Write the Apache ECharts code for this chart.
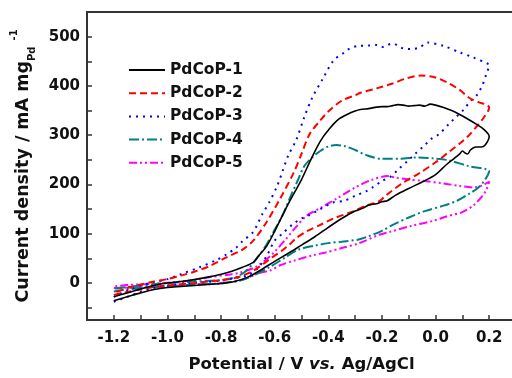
<!DOCTYPE html>
<html><head><meta charset="utf-8">
<script src="https://cdn.jsdelivr.net/npm/echarts@6/dist/echarts.min.js"></script>
<style>html,body{margin:0;padding:0;background:#fff;overflow:hidden}#c{width:522px;height:378px}</style>
</head><body><div id="c"></div>
<script>
// ---- data ----
const seriesNames = ['PdCoP-1','PdCoP-2','PdCoP-3','PdCoP-4','PdCoP-5'];
const xTickValues = [-1.2,-1.1,-1.0,-0.9,-0.8,-0.7,-0.6,-0.5,-0.4,-0.3,-0.2,-0.1,0.0,0.1,0.2];
const xLabelValues = [-1.2,-1.0,-0.8,-0.6,-0.4,-0.2,0.0,0.2];
const yTickValues = [-50,0,50,100,150,200,250,300,350,400,450,500];
const yLabelValues = [0,100,200,300,400,500];

const potential1 = [-1.2,-1.15,-1.1,-1.05,-1.0,-0.95,-0.9,-0.85,-0.8,-0.75,-0.7,-0.65,-0.6,-0.55,-0.5,-0.45,-0.4,-0.35,-0.3,-0.27,-0.25,-0.22,-0.2,-0.18,-0.15,-0.1,-0.05,0.0,0.04,0.07,0.09,0.1,0.11,0.12,0.13,0.15,0.17,0.185,0.2,
  0.18,0.15,0.12,0.09,0.06,0.03,0.0,-0.02,-0.04,-0.06,-0.08,-0.1,-0.12,-0.14,-0.16,-0.18,-0.2,-0.22,-0.25,-0.28,-0.3,-0.33,-0.36,-0.38,-0.4,-0.42,-0.44,-0.47,-0.5,-0.55,-0.6,-0.63,-0.66,-0.68,-0.72,-0.76,-0.8,-0.85,-0.9,-0.95,-1.0,-1.05,-1.1,-1.15,-1.2];
const current1 = [-36,-28,-20,-13,-9,-7,-5,-3,-1,3,12,27,44,60,77,94,113,131,146,152,158,161,165,167,178,192,205,220,240,253,262,268,264,262,270,276,276,280,298,
  312,323,333,342,350,356,361,363,359,361,360,359,361,362,360,358,358,357,354,352,349,342,333,323,310,296,278,245,210,160,105,75,55,42,32,24,18,12,7,3,0,-5,-12,-20,-28];

const potential2 = [-1.2,-1.15,-1.1,-1.05,-1.0,-0.9,-0.8,-0.75,-0.72,-0.68,-0.645,-0.61,-0.575,-0.545,-0.52,-0.48,-0.43,-0.38,-0.3,-0.26,-0.21,-0.185,-0.12,-0.06,0.0,0.05,0.09,0.125,0.155,0.18,0.2,
  0.19,0.165,0.125,0.09,0.05,0.0,-0.055,-0.11,-0.16,-0.22,-0.28,-0.3,-0.35,-0.4,-0.43,-0.47,-0.5,-0.53,-0.58,-0.63,-0.68,-0.72,-0.78,-0.84,-0.9,-0.95,-1.0,-1.05,-1.1,-1.15,-1.2];
const current2 = [-24,-18,-13,-8,-5,0,6,10,15,25,38,52,65,78,91,105,118,131,147,157,166,178,204,223,245,266,283,300,319,336,356,
  362,366,376,392,405,417,421,415,405,395,386,381,370,348,330,302,262,223,171,124,86,68,52,35,23,15,8,3,-3,-10,-20];

const potential3 = [-1.2,-1.15,-1.1,-1.05,-1.0,-0.9,-0.8,-0.75,-0.7,-0.66,-0.63,-0.6,-0.57,-0.535,-0.5,-0.47,-0.43,-0.38,-0.34,-0.3,-0.26,-0.235,-0.2,-0.165,-0.135,-0.105,-0.075,-0.04,-0.015,0.015,0.05,0.075,0.105,0.13,0.155,0.175,0.19,0.2,
  0.195,0.14,0.09,0.03,-0.03,-0.06,-0.09,-0.12,-0.16,-0.2,-0.22,-0.25,-0.29,-0.32,-0.34,-0.38,-0.42,-0.46,-0.49,-0.52,-0.55,-0.57,-0.59,-0.62,-0.645,-0.68,-0.72,-0.745,-0.78,-0.82,-0.88,-0.95,-1.0,-1.05,-1.1,-1.15,-1.2];
const current3 = [-38,-28,-18,-10,-5,0,5,10,16,32,55,86,101,118,131,138,150,164,167,177,186,194,207,217,233,247,263,280,293,303,323,336,352,369,382,402,425,443,
  445,458,468,481,488,478,475,476,486,479,483,482,481,476,468,452,415,376,336,290,258,228,198,164,141,104,85,71,58,46,32,18,8,2,-5,-15,-28];

const potential4 = [-1.2,-1.15,-1.1,-1.0,-0.9,-0.8,-0.77,-0.73,-0.68,-0.62,-0.56,-0.51,-0.45,-0.4,-0.35,-0.29,-0.25,-0.2,-0.16,-0.1,-0.04,0.03,0.08,0.125,0.16,0.185,0.2,
  0.19,0.125,0.05,-0.01,-0.07,-0.13,-0.2,-0.26,-0.3,-0.34,-0.37,-0.4,-0.43,-0.46,-0.49,-0.515,-0.54,-0.565,-0.59,-0.61,-0.63,-0.66,-0.7,-0.74,-0.8,-0.9,-1.0,-1.1,-1.15,-1.2];
const current4 = [-17,-13,-10,-6,-3,-1,2,5,15,32,52,68,76,81,84,88,95,106,118,133,146,157,167,181,194,210,228,
  231,237,249,253,255,252,252,260,270,278,280,277,268,255,237,207,177,144,118,98,78,55,28,13,6,3,0,-5,-8,-12];

const potential5 = [-1.2,-1.1,-1.0,-0.9,-0.82,-0.73,-0.66,-0.62,-0.58,-0.53,-0.46,-0.41,-0.35,-0.285,-0.21,-0.17,-0.09,-0.01,0.04,0.1,0.14,0.175,0.19,0.2,
  0.175,0.14,0.09,0.03,-0.04,-0.1,-0.15,-0.18,-0.24,-0.3,-0.37,-0.43,-0.48,-0.52,-0.56,-0.61,-0.67,-0.73,-0.76,-0.84,-0.9,-0.95,-1.07,-1.15,-1.2];
const current5 = [-10,-9,-7,-3,-1,5,20,25,36,45,56,62,71,81,98,104,116,126,135,144,157,177,190,206,
  198,194,197,202,207,210,214,217,209,194,171,152,137,114,88,58,33,21,18,12,6,3,-2,-4,-7];

// ---- styling ----
const potentials = [potential1,potential2,potential3,potential4,potential5];
const currents = [current1,current2,current3,current4,current5];
const colors = ['#000000','#ff0000','#0000ff','#008080','#ff00ff'];
const dashes = ['solid',[7,4],[2,5],[10,3,2,3],[8,3,2,3,2,3]];
const widths = [1.6,2,2,2,2];
const FONT = 'DejaVu Sans';

const series = seriesNames.map((n,i)=>({
  name:n, type:'line', symbol:'none', showSymbol:false, smooth:0.3,
  data: potentials[i].map((v,k)=>[v,currents[i][k]]),
  lineStyle:{color:colors[i], width:widths[i], type:dashes[i]},
  itemStyle:{color:colors[i]},
  emphasis:{disabled:true}, animation:false, z: 10-i
}));

const chart = echarts.init(document.getElementById('c'), null, {renderer:'canvas'});
chart.setOption({
  animation:false,
  backgroundColor:'#fff',
  grid:{left:87, top:12, bottom:51, right:6, show:true, borderColor:'#333', borderWidth:2, containLabel:false},
  legend:{
    orient:'vertical', left:128, top:61, padding:0, itemGap:5.2, itemWidth:36, itemHeight:14,
    data:seriesNames, selectedMode:false,
    itemStyle:{opacity:0},
    textStyle:{fontFamily:FONT, fontWeight:'bold', fontSize:15.5, color:'#111', lineHeight:18}
  },
  xAxis:{
    type:'value', min:-1.3, max:0.3,
    axisLine:{show:true, onZero:false, lineStyle:{color:'#333', width:2}},
    axisTick:{show:true, inside:true, length:5, lineStyle:{color:'#333', width:1.5}, customValues:xTickValues},
    axisLabel:{customValues:xLabelValues, margin:11, fontFamily:FONT, fontWeight:'bold', fontSize:15, color:'#111',
      formatter:v=>v.toFixed(1)},
    splitLine:{show:false},
    name:'{b|Potential / V }{i|vs.}{b| Ag/AgCl}', nameLocation:'middle', nameGap:36,
    nameTextStyle:{rich:{
      b:{fontFamily:FONT, fontWeight:'bold', fontSize:16.5, color:'#111'},
      i:{fontFamily:FONT, fontWeight:'bold', fontStyle:'italic', fontSize:16.5, color:'#111'}
    }}
  },
  yAxis:{
    type:'value', min:-75, max:550,
    axisLine:{show:true, onZero:false, lineStyle:{color:'#333', width:2}},
    axisTick:{show:true, inside:true, length:5, lineStyle:{color:'#333', width:1.5}, customValues:yTickValues},
    axisLabel:{customValues:yLabelValues, margin:7, fontFamily:FONT, fontWeight:'bold', fontSize:15, color:'#111'},
    splitLine:{show:false},
    name:'{m|Current density / mA mg}{sub|Pd}{sup|-1}', nameLocation:'middle', nameGap:47, nameRotate:90,
    nameTextStyle:{rich:{
      m:{fontFamily:FONT, fontWeight:'bold', fontSize:17.5, color:'#111', lineHeight:28},
      sub:{fontFamily:FONT, fontWeight:'bold', fontSize:10, color:'#111', lineHeight:10, verticalAlign:'bottom'},
      sup:{fontFamily:FONT, fontWeight:'bold', fontSize:10, color:'#111', lineHeight:10, verticalAlign:'top', padding:[0,0,0,6]}
    }}
  },
  series:series
});
</script></body></html>
